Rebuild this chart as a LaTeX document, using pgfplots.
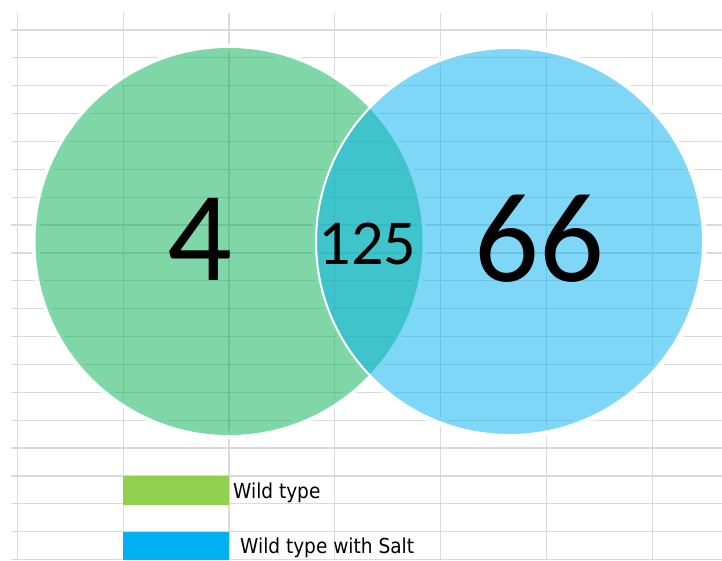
\documentclass[border=0pt]{standalone}
\usepackage{pgfplots}
\pgfplotsset{compat=1.18}
\usepackage{fontspec}
\newfontfamily\carlito{Carlito}
\newfontfamily\dvc{DejaVu Sans Condensed}
\definecolor{gridc}{RGB}{218,218,218}
\definecolor{vgreen}{RGB}{0,176,80}
\definecolor{vblue}{RGB}{0,176,240}
\definecolor{lgreen}{RGB}{146,208,80}
\begin{document}
\begin{tikzpicture}
\begin{axis}[
  width=711pt, height=547pt, scale only axis,
  xmin=11, xmax=722, ymin=13, ymax=560, y dir=reverse,
  clip=false,
  axis line style={draw=none},
  major tick length=0pt,
  xtick={17.3,123.1,228.9,334.7,440.5,546.3,652.1},
  ytick={30,57.87,85.74,113.61,141.48,169.35,197.22,225.09,252.96,280.83,308.7,336.57,364.44,392.31,420.18,448.05,475.92,503.79,531.66,559.5},
  xticklabels={}, yticklabels={},
  grid=major,
  major grid style={draw=gridc, line width=1.2pt},
]
% soft white halo around circles
\addplot[only marks, mark=o, mark size=193.5pt,
  mark options={draw=white, line width=8pt, draw opacity=0.9}]
  coordinates {(229,241.5) (509.5,241.5)};
% Wild type circle
\addplot[only marks, mark=*, mark size=193.5pt, color=vgreen,
  mark options={fill=vgreen, fill opacity=0.5, draw opacity=0}]
  coordinates {(229,241.5)};
% Wild type with Salt circle
\addplot[only marks, mark=*, mark size=193.5pt, color=vblue,
  mark options={fill=vblue, fill opacity=0.5, draw=white, draw opacity=1, line width=2pt}]
  coordinates {(509.5,241.5)};
% legend swatches
\addplot[draw=none, fill=lgreen] coordinates {(122.7,476) (229.3,476) (229.3,504.5) (122.7,504.5)} -- cycle;
\addplot[draw=none, fill=vblue] coordinates {(122.7,531.7) (229.3,531.7) (229.3,560) (122.7,560)} -- cycle;
\coordinate (nA) at (axis cs:200,239);
\coordinate (nAB) at (axis cs:367.5,243.5);
\coordinate (nB) at (axis cs:539,239);
\coordinate (l1) at (axis cs:233,498);
\coordinate (l2) at (axis cs:240,553);
\coordinate (bl) at (axis cs:0,560);
\coordinate (tr) at (axis cs:722,0);
\end{axis}
% counts
\node[inner sep=0pt, font=\carlito\fontsize{128}{128}\selectfont] at (nA) {4};
\node[inner sep=0pt, font=\carlito\fontsize{64}{64}\selectfont] at (nAB) {125};
\node[inner sep=0pt, font=\carlito\fontsize{128}{128}\selectfont] at (nB) {66};
\node[anchor=base west, inner sep=0pt, font=\dvc\fontsize{20.6}{22}\selectfont] at (l1) {Wild type};
\node[anchor=base west, inner sep=0pt, font=\dvc\fontsize{20.6}{22}\selectfont] at (l2) {Wild type with Salt};
\pgfresetboundingbox
\path (bl) rectangle (tr);
\end{tikzpicture}
\end{document}
